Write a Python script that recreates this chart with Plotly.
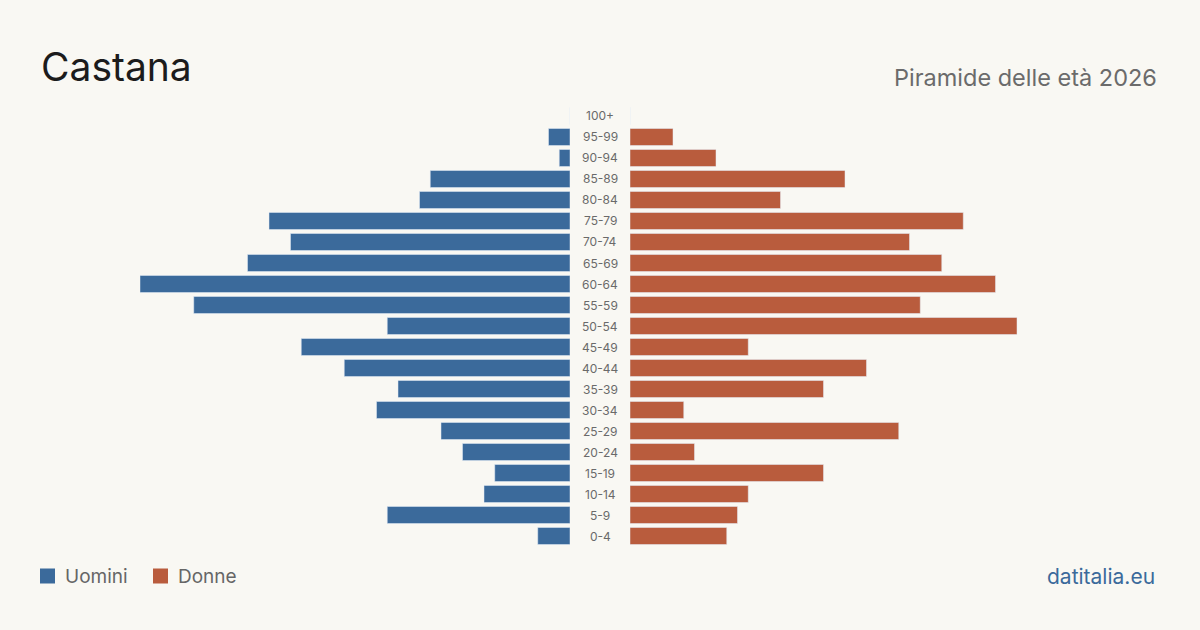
import plotly.graph_objects as go

age_groups = ["100+", "95-99", "90-94", "85-89", "80-84", "75-79", "70-74", "65-69",
              "60-64", "55-59", "50-54", "45-49", "40-44", "35-39", "30-34", "25-29",
              "20-24", "15-19", "10-14", "5-9", "0-4"]
men = [0, 2, 1, 13, 14, 28, 26, 30, 40, 35, 17, 25, 21, 16, 18, 12, 10, 7, 8, 17, 3]
women = [0, 4, 8, 20, 14, 31, 26, 29, 34, 27, 36, 11, 22, 18, 5, 25, 6, 18, 11, 10, 9]

BLUE = "#3b6a9b"
ORANGE = "#b95c3d"
BG = "#f9f8f3"
FONT = "Inter, Roboto, sans-serif"

W, H = 1200, 630
xmax = max(max(men), max(women))

fig = go.Figure()
fig.add_trace(go.Bar(y=age_groups, x=men, orientation="h", marker_color=BLUE,
                     xaxis="x", yaxis="y", name="Uomini", showlegend=False,
                     hoverinfo="x+y"))
fig.add_trace(go.Bar(y=age_groups, x=women, orientation="h", marker_color=ORANGE,
                     xaxis="x2", yaxis="y", name="Donne", showlegend=False,
                     hoverinfo="x+y"))

# age labels in the center
for g in age_groups:
    fig.add_annotation(x=600 / W, xref="paper", y=g, yref="y", text=g,
                       showarrow=False, font=dict(family=FONT, size=12, color="#6a6a6a"),
                       xanchor="center", yanchor="middle")

ybot = 1 - 546.5 / H
ytop = 1 - 105.5 / H

fig.update_layout(
    width=W, height=H, margin=dict(l=0, r=0, t=0, b=0),
    paper_bgcolor=BG, plot_bgcolor="rgba(0,0,0,0)",
    bargap=0.19,
    xaxis=dict(domain=[140 / W, 570 / W], range=[xmax, 0], visible=False, fixedrange=True),
    xaxis2=dict(domain=[630 / W, 1060 / W], range=[0, xmax], visible=False, fixedrange=True),
    yaxis=dict(domain=[ybot, ytop], categoryorder="array",
               categoryarray=list(reversed(age_groups)), range=[-0.5, len(age_groups) - 0.5],
               visible=False, fixedrange=True),
    font=dict(family=FONT),
)

# title and subtitle
fig.add_annotation(x=39 / W, y=1 - 67 / H, xref="paper", yref="paper", text="Castana",
                   showarrow=False, xanchor="left", yanchor="middle",
                   font=dict(family=FONT, size=39, color="#1c1c1c"))
fig.add_annotation(x=1159 / W, y=1 - 77 / H, xref="paper", yref="paper",
                   text="Piramide delle età 2026", showarrow=False, xanchor="right",
                   yanchor="middle", font=dict(family=FONT, size=23.5, color="#6b6b6b"))

# legend
fig.add_shape(type="rect", xref="paper", yref="paper", x0=40 / W, x1=55 / W,
              y0=1 - 583.5 / H, y1=1 - 568.5 / H, fillcolor=BLUE, line_width=0)
fig.add_annotation(x=63 / W, y=1 - 576 / H, xref="paper", yref="paper", text="Uomini",
                   showarrow=False, xanchor="left", yanchor="middle",
                   font=dict(family=FONT, size=19, color="#666"))
fig.add_shape(type="rect", xref="paper", yref="paper", x0=153 / W, x1=168 / W,
              y0=1 - 583.5 / H, y1=1 - 568.5 / H, fillcolor=ORANGE, line_width=0)
fig.add_annotation(x=176 / W, y=1 - 576 / H, xref="paper", yref="paper", text="Donne",
                   showarrow=False, xanchor="left", yanchor="middle",
                   font=dict(family=FONT, size=19, color="#666"))

fig.add_annotation(x=1157 / W, y=1 - 576 / H, xref="paper", yref="paper", text="datitalia.eu",
                   showarrow=False, xanchor="right", yanchor="middle",
                   font=dict(family=FONT, size=21, color=BLUE))

fig.write_html("out.html")
